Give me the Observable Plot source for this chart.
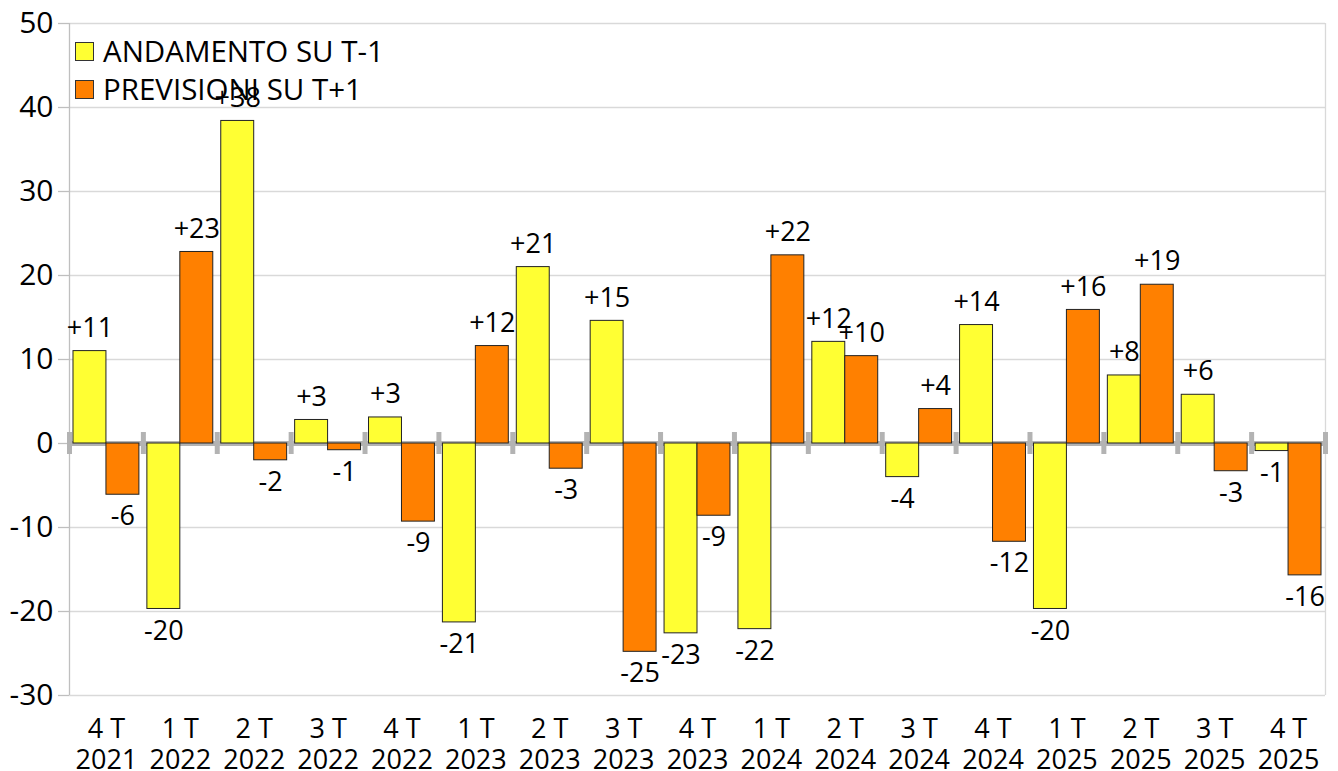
<!DOCTYPE html>
<html><head><meta charset="utf-8">
<script src="https://cdn.jsdelivr.net/npm/d3@7"></script>
<script src="https://cdn.jsdelivr.net/npm/@observablehq/plot@0.6"></script>
<style>
body{margin:0;background:#fff;}
#wrap{position:relative;width:1338px;height:771px;font-family:"Open Sans",sans-serif;}
.legend{position:absolute;left:75px;top:32px;font-size:29.5px;color:#000;line-height:1;}
.row{display:flex;align-items:center;height:38px;}
.sw{width:17px;height:17px;border:1px solid #333;margin-right:9px;}
</style></head><body><div id="wrap"></div>
<script>
const quarters = ["4 T\n2021","1 T\n2022","2 T\n2022","3 T\n2022","4 T\n2022","1 T\n2023","2 T\n2023","3 T\n2023","4 T\n2023","1 T\n2024","2 T\n2024","3 T\n2024","4 T\n2024","1 T\n2025","2 T\n2025","3 T\n2025","4 T\n2025"];
const seriesNames = ["ANDAMENTO SU T-1","PREVISIONI SU T+1"];
const andamento = [11, -19.7, 38.4, 2.8, 3.1, -21.3, 21, 14.6, -22.6, -22.1, 12.1, -4, 14.1, -19.7, 8.1, 5.8, -0.9];
const previsioni = [-6.1, 22.8, -2, -0.8, -9.3, 11.6, -3, -24.8, -8.6, 22.4, 10.4, 4.1, -11.7, 15.9, 18.9, -3.3, -15.7];
const colors = ["#ffff33","#ff8000"];
const yTicks = [-30,-20,-10,0,10,20,30,40,50];

const pad = 0.054;
const rows = [];
quarters.forEach((q,i)=>{
  rows.push({i, s:0, v:andamento[i], x1:i+pad, x2:i+0.5});
  rows.push({i, s:1, v:previsioni[i], x1:i+0.5, x2:i+1-pad});
});
const bounds = quarters.map((q,i)=>i).concat([quarters.length]);
const fmt = v => { const r = Math.round(v); return (r>0?"+":"") + r; };
const font = "'Open Sans', sans-serif";

const chart = Plot.plot({
  width:1338, height:771,
  marginLeft:69, marginRight:13, marginTop:23, marginBottom:76,
  style:{fontFamily:font, fontSize:"27px", color:"#000", background:"#fff", overflow:"visible"},
  x:{domain:[0,quarters.length], label:null},
  y:{domain:[-30,50], label:null},
  marks:[
    Plot.gridY(yTicks,{stroke:"#d9d9d9", strokeOpacity:1, strokeWidth:1.3}),
    Plot.ruleX([quarters.length],{stroke:"#d9d9d9", strokeWidth:1.3}),
    Plot.ruleX([0],{stroke:"#bfbfbf", strokeWidth:1.3}),
    Plot.axisY(yTicks,{label:null, tickSize:11, tickPadding:5, stroke:"#bfbfbf", strokeOpacity:1, strokeWidth:1.3, tickFormat:d=>String(d), fontSize:30, fill:"#000"}),
    Plot.axisX(quarters.map((q,i)=>i+0.5),{label:null, tickFormat:d=>quarters[Math.floor(d)], tickSize:0, tickPadding:21, lineHeight:1.14, fontSize:27, fill:"#000"}),
    Plot.ruleY([0],{stroke:"#b3b3b3", strokeWidth:5}),
    Plot.ruleX(bounds,{y1:0, y2:0, insetTop:-11, insetBottom:-11, stroke:"#b3b3b3", strokeWidth:5}),
    Plot.rectY(rows.filter(d=>d.s===0),{x1:"x1", x2:"x2", y1:0, y2:"v", fill:colors[0], stroke:"#222", strokeWidth:1}),
    Plot.rectY(rows.filter(d=>d.s===1),{x1:"x1", x2:"x2", y1:0, y2:"v", fill:colors[1], stroke:"#222", strokeWidth:1}),
    Plot.text(rows.filter(d=>d.v>=0),{x:d=>(d.x1+d.x2)/2, y:"v", text:d=>fmt(d.v), dy:-23, fontSize:27, fill:"#000"}),
    Plot.text(rows.filter(d=>d.v<0),{x:d=>(d.x1+d.x2)/2, y:"v", text:d=>fmt(d.v), dy:22, fontSize:27, fill:"#000"})
  ]
});
const wrap = document.getElementById("wrap");
wrap.appendChild(chart);
const legend = document.createElement("div");
legend.className = "legend";
seriesNames.forEach((n,k)=>{
  const row = document.createElement("div"); row.className="row";
  const sw = document.createElement("span"); sw.className="sw"; sw.style.background = colors[k];
  const t = document.createElement("span"); t.textContent = n;
  row.appendChild(sw); row.appendChild(t); legend.appendChild(row);
});
wrap.appendChild(legend);
chart.style.position="absolute"; chart.style.left="0"; chart.style.top="0";
</script></body></html>
